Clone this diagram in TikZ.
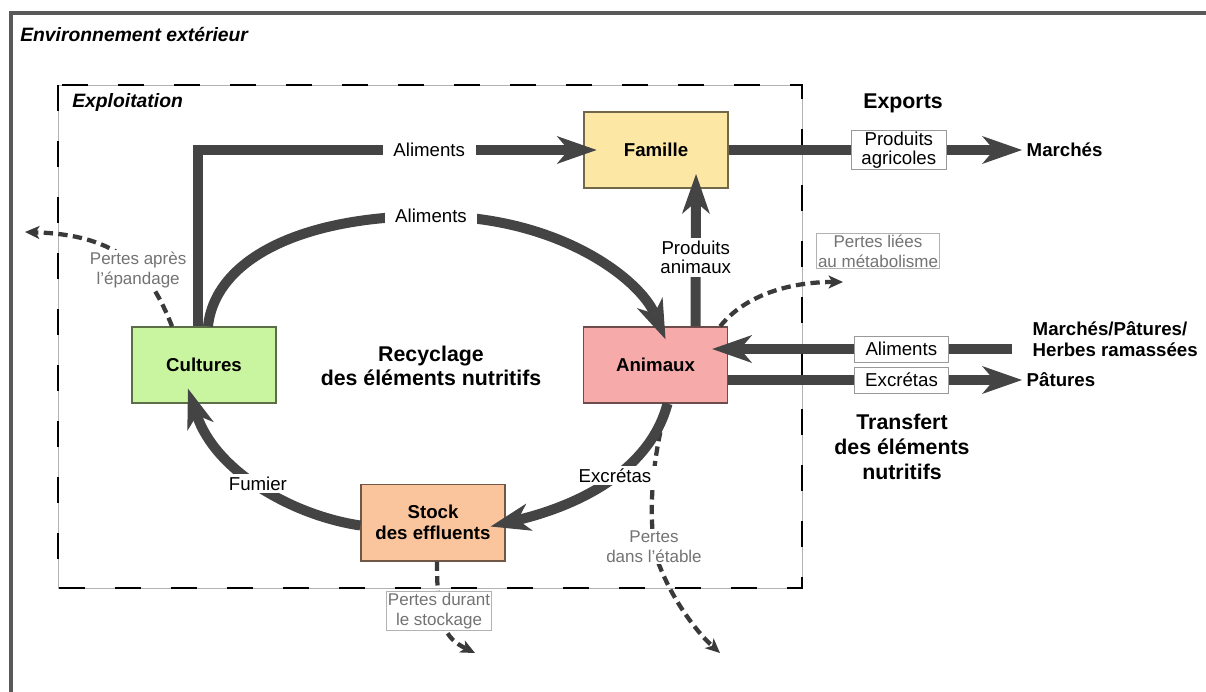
\documentclass[tikz,border=0pt]{standalone}
\usepackage{fontspec}
\setmainfont{Liberation Sans}
\usetikzlibrary{arrows.meta,calc}

\definecolor{flowgray}{RGB}{68,68,68}
\definecolor{lossgray}{RGB}{58,58,58}
\definecolor{txtgray}{RGB}{115,115,115}
\definecolor{famfill}{RGB}{252,232,164}
\definecolor{anifill}{RGB}{246,170,170}
\definecolor{culfill}{RGB}{202,245,160}
\definecolor{stofill}{RGB}{250,196,156}

\begin{document}
\begin{tikzpicture}[x=0.75pt,y=0.75pt,yscale=-1,
    box/.style={draw=#1!45!black, fill=#1, line width=1pt, minimum width=108pt,
      minimum height=57pt, align=center, font=\fontsize{14}{16}\selectfont\bfseries},
    flow/.style={draw=flowgray, line width=7.5pt,
      -{Stealth[length=30pt,width=21pt,inset=9pt,line width=0pt]}},
    loss/.style={draw=lossgray, line width=3.2pt, dash pattern=on 7pt off 4pt,
      -{Stealth[length=11pt,width=10pt,inset=3pt,line width=0pt]}},
    lab/.style={fill=white, inner xsep=8pt, inner ysep=2pt, align=center,
      font=\fontsize{14}{14.5}\selectfont},
    tag/.style={lab, draw=black!40, line width=0.6pt, inner xsep=2pt, inner ysep=1pt,
      minimum width=71pt, minimum height=19.5pt},
    losslab/.style={fill=white, inner sep=1pt, align=center, text=txtgray,
      font=\fontsize{12.75}{15}\selectfont},
    losstag/.style={losslab, draw=black!30, line width=0.5pt},
    head/.style={align=center, font=\fontsize{16}{18.5}\selectfont\bfseries},
    place/.style={anchor=west, align=left, font=\fontsize{14}{16}\selectfont\bfseries},
    zone/.style={anchor=west, inner sep=0pt, font=\fontsize{14.5}{16}\selectfont\bfseries\itshape}]
        \useasboundingbox (0,0) rectangle (1206,692);
        % outer environment
        \draw[black!65, line width=3pt] (11,692) -- (11,13) -- (1206,13);
        \node[zone] (env) at (20,35) {Environnement extérieur};
        % farm boundary
        \draw[black!30, line width=0.6pt] (58,85) rectangle (802,588);
        \draw[black, line width=2.2pt, dash pattern=on 19.5pt off 22.5pt] (58,85) rectangle (802,588);
        \node[zone] (farm) at (72,103) {Exploitation};
        % compartments
        \node[box=famfill] (fam) at (656,150) {Famille};
        \node[box=anifill] (ani) at (655.5,365) {Animaux};
        \node[box=culfill] (cult) at (204,365) {Cultures};
        \node[box=stofill, minimum height=57.5pt] (stock) at (433,522.5) {Stock\\des effluents};
        \node[head] (recy) at (431,366) {Recyclage\\des éléments nutritifs};
        % outside
        \node[head] (exp) at (903,103) {Exports};
        \node[head] (trans) at (902,447) {Transfert\\des éléments\\nutritifs};
        \node[place] (march) at (1022,150) {Marchés};
        \node[place] (mph) at (1028,339) {Marchés/Pâtures/\\Herbes ramassées};
        \node[place] (pat) at (1022,380) {Pâtures};
        \coordinate (src) at (1012,349);
        \coordinate (lossA) at (25,232);
        \coordinate (lossB) at (843,282);
        \coordinate (lossC) at (475,653);
        \coordinate (lossD) at (720,653);
        % losses
        \draw[loss] ($(cult.north)+(-32,0)$) .. controls (150,270) and (120,235) .. (lossA)
            node[losslab, pos=0.4] {Pertes après\\l'épandage};
        \draw[loss] ($(ani.north east)+(-8,0)$) .. controls (745,295) and (790,282) .. (lossB);
        \node[losstag] (metab) at (878,251) {Pertes liées\\au métabolisme};
        \draw[loss] ($(stock.south)+(4,0)$) .. controls (437,625) and (445,638) .. (lossC);
        \node[losstag] (stockage) at (439,611) {Pertes durant\\le stockage};
        \draw[loss] ($(ani.south)+(12,0)$) .. controls (648,470) and (648,540) .. (660,567)
            .. controls (675,605) and (700,635) .. (lossD);
        \node[losslab] (etable) at (654,547) {Pertes\\dans l'étable};
        % nutrient flows
        \draw[flow, shorten >=-10pt] ($(cult.north)+(-6,0)$) |- node[lab, pos=0.8] {Aliments} (fam.west);
        \draw[flow] ($(cult.north)+(4,0)$) .. controls (215,260) and (300,216) .. (431,216)
            node[lab] {Aliments} .. controls (560,216) and (640,280) .. ($(ani.north)+(10,13)$);
        \draw[flow, shorten >=-11pt] ($(ani.north)+(40,0)$) -- node[lab] {Produits\\animaux} ($(fam.south)+(40,0)$);
        \draw[flow] (fam.east) -- node[tag, pos=0.58] {Produits\\agricoles} (march.west);
        \draw[flow, shorten >=-12pt] (src) -- node[tag, pos=0.39] {Aliments} (ani.east |- src);
        \draw[flow] (ani.east |- pat.west) -- node[tag, pos=0.59] {Excrétas} (pat.west);
        \draw[flow] ($(ani.south)+(12,0)$) .. controls (650,470) and (580,505) .. ($(stock.east)+(-15,4)$)
            node[lab, pos=0.45] {Excrétas};
        \draw[flow] ($(stock.west)+(0,3)$) .. controls (290,515) and (215,470) .. ($(cult.south)+(-16,-15)$)
            node[lab, pos=0.5] {Fumier};
    \end{tikzpicture}
\end{document}
